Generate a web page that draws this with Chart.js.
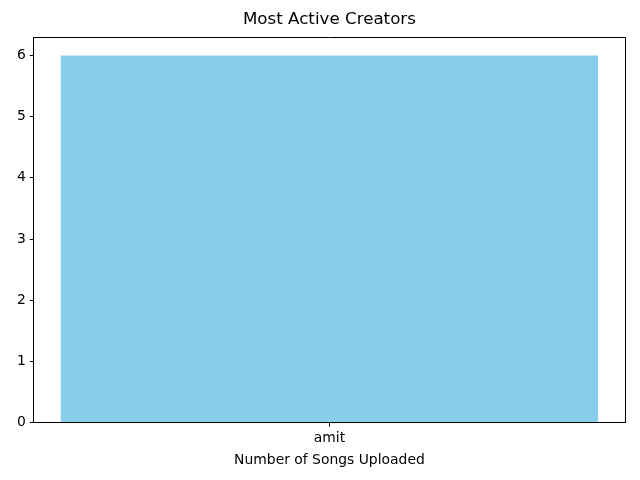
<!DOCTYPE html>
<html><head><meta charset="utf-8">
<script src="https://cdn.jsdelivr.net/npm/chart.js@4"></script>
<style>html,body{margin:0;padding:0;background:#fff}#w{width:640px;height:480px}</style>
</head><body><div id="w"><canvas id="c" width="640" height="480"></canvas></div>
<script>
const categories = ["amit"];
const songCounts = [6];
const yTicks = [0, 1, 2, 3, 4, 5, 6];
const chartTitle = "Most Active Creators";
const xTitle = "Number of Songs Uploaded";

const align = v => Math.round(v - 0.5) + 0.5;
const frame = {
  id: 'frame',
  afterLayout(chart) {
    if (chart.titleBlock) {
      chart.titleBlock.left = chart.chartArea.left;
      chart.titleBlock.right = chart.chartArea.right;
    }
  },
  afterDraw(chart) {
    const a = chart.chartArea, ctx = chart.ctx;
    const l = align(a.left), r = align(a.right), t = align(a.top), b = align(a.bottom);
    ctx.save();
    ctx.strokeStyle = '#000';
    ctx.lineWidth = 1;
    ctx.beginPath();
    ctx.moveTo(l, t); ctx.lineTo(r, t); ctx.lineTo(r, b); ctx.lineTo(l, b); ctx.closePath();
    ctx.stroke();
    ctx.restore();
  }
};

new Chart(document.getElementById('c'), {
  type: 'bar',
  data: { labels: categories, datasets: [{ data: songCounts, backgroundColor: '#87CEEB', borderWidth: 0, barPercentage: 1, categoryPercentage: 0.909 }] },
  options: {
    responsive: false, animation: false,
    layout: { padding: { left: 13, right: 15, top: 0, bottom: 11 } },
    plugins: {
      legend: { display: false }, tooltip: { enabled: false },
      title: { display: true, text: chartTitle, color: '#000', font: { family: 'DejaVu Sans', size: 16.7, weight: 'normal' }, padding: { top: 10, bottom: 7 } }
    },
    scales: {
      x: {
        grid: { display: true, offset: false, drawOnChartArea: false, drawTicks: true, tickLength: 4, color: '#000' },
        border: { display: true, color: '#000' },
        ticks: { color: '#000', font: { family: 'DejaVu Sans', size: 13.9 }, padding: 3 },
        title: { display: true, text: xTitle, color: '#000', font: { family: 'DejaVu Sans', size: 13.9 }, padding: { top: 3, bottom: 0 } }
      },
      y: {
        min: 0, max: 6.3,
        afterBuildTicks(axis) { axis.ticks = yTicks.map(v => ({ value: v })); },
        grid: { display: true, drawOnChartArea: false, drawTicks: true, tickLength: 4, color: '#000' },
        border: { display: true, color: '#000' },
        ticks: { color: '#000', font: { family: 'DejaVu Sans', size: 13.9 }, padding: 4 }
      }
    }
  },
  plugins: [frame]
});
</script></body></html>
